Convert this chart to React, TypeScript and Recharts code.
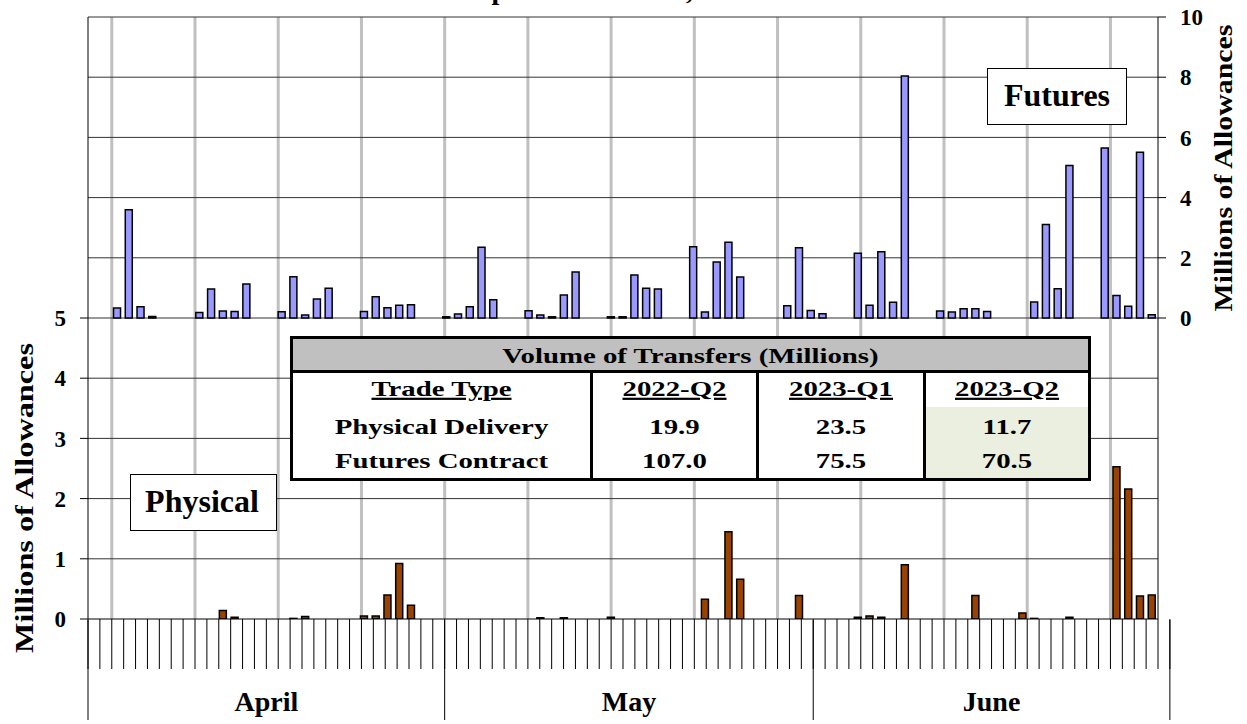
import React from 'react'
import { ComposedChart, Bar, XAxis, YAxis, CartesianGrid } from 'recharts'

const WIDTH = 1247
const HEIGHT = 724
const SERIF = '"Liberation Serif", "Times New Roman", serif'

const months = ['April', 'May', 'June']
const monthAbbr = ['Apr', 'May', 'Jun']

// futures contract transfers per calendar day, millions (null = no trading)
const futuresApril = [
  null, null, 0.33, 3.6, 0.37, 0.05, null, null, null, 0.18,
  0.96, 0.23, 0.22, 1.13, null, null, 0.21, 1.37, 0.1, 0.63,
  0.99, null, null, 0.22, 0.71, 0.34, 0.42, 0.44, null, null,
]
const futuresMay = [
  0.04, 0.13, 0.37, 2.35, 0.61, null, null, 0.24, 0.1, 0.04,
  0.76, 1.53, null, null, 0.04, 0.04, 1.43, 0.99, 0.96, null,
  null, 2.37, 0.2, 1.86, 2.52, 1.36, null, null, null, 0.41,
  2.33,
]
const futuresJune = [
  0.25, 0.14, null, null, 2.15, 0.42, 2.2, 0.52, 8.04, null,
  null, 0.23, 0.2, 0.31, 0.31, 0.22, null, null, null, 0.53,
  3.11, 0.97, 5.07, null, null, 5.65, 0.75, 0.39, 5.51, 0.11,
]

// physical delivery transfers per calendar day, millions
const physicalApril = [
  null, null, null, null, null, null, null, null, null, null,
  null, 0.14, 0.03, null, null, null, null, 0.01, 0.04, null,
  null, null, null, 0.05, 0.05, 0.4, 0.92, 0.23, null, null,
]
const physicalMay = [
  null, null, null, null, null, null, null, null, 0.02, null,
  0.02, null, null, null, 0.03, null, null, null, null, null,
  null, null, 0.33, null, 1.45, 0.66, null, null, null, null,
  0.39,
]
const physicalJune = [
  null, null, null, null, 0.03, 0.05, 0.03, null, 0.9, null,
  null, null, null, null, 0.39, null, null, null, 0.1, 0.01,
  null, null, 0.03, null, null, null, 2.53, 2.16, 0.38, 0.4,
]

// mondays, where the grey week lines sit
const weekStarts = [
  'Apr 3', 'Apr 10', 'Apr 17', 'Apr 24', 'May 1', 'May 8', 'May 15',
  'May 22', 'May 29', 'Jun 5', 'Jun 12', 'Jun 19', 'Jun 26',
]

const physTicks = [0, 1, 2, 3, 4, 5]
const physGrid = [1, 2, 3, 4, 5, 6, 7, 8, 9, 10]
const futuresTicks = [0, 2, 4, 6, 8, 10]

const tableTitle = 'Volume of Transfers (Millions)'
const tableHeads = ['Trade Type', '2022-Q2', '2023-Q1', '2023-Q2']
const tablePhysical = [19.9, 23.5, 11.7]
const tableFutures = [107.0, 75.5, 70.5]

const futuresByMonth = [futuresApril, futuresMay, futuresJune]
const physicalByMonth = [physicalApril, physicalMay, physicalJune]

const rows = months.flatMap((_, mi) =>
  futuresByMonth[mi].map((f, d) => ({
    day: `${monthAbbr[mi]} ${d + 1}`,
    futures: f,
    physical: physicalByMonth[mi][d],
  }))
)
const dayCount = rows.length
const dayEdges = rows.map((_, i) => i).concat(dayCount)
const monthEdges = futuresByMonth.reduce(
  (acc, m) => acc.concat(acc[acc.length - 1] + m.length),
  [0]
)
const monthCenters = months.map((_, i) => (monthEdges[i] + monthEdges[i + 1]) / 2)
const weekEdges = weekStarts.map((d) => rows.findIndex((r) => r.day === d))

const blankTick = () => <g />
const axisFont = { fontSize: 23, fontWeight: 'bold', fill: '#000', fontFamily: SERIF }

// table geometry
const colEdges = [291.5, 591.5, 757.5, 924.5, 1089.5]
const tableTop = 337.5
const headerBottom = 371.5
const shadeTop = 407
const tableBottom = 479.5
const rowBaselines = [396, 434, 468]

function Stretched({ x, y, children, underline = false }) {
  return (
    <text
      transform={`translate(${x} ${y}) scale(1.31 1)`}
      textAnchor="middle"
      fontSize={22}
      textDecoration={underline ? 'underline' : undefined}
    >
      {children}
    </text>
  )
}

function Overlay() {
  const centers = colEdges.slice(0, -1).map((e, i) => (e + colEdges[i + 1]) / 2)
  return (
    <svg
      width={WIDTH}
      height={HEIGHT}
      style={{ position: 'absolute', left: 0, top: 0, pointerEvents: 'none' }}
      fontFamily={SERIF}
      fontWeight="bold"
      fill="#000"
    >
      {/* title sits above the crop, only its descenders show */}
      <text x={211} y={-1} fontSize={28}>
        Allowance Transfers: April 1 to June 30, 2023
      </text>

      <text
        transform="translate(33 498) rotate(-90)"
        textAnchor="middle"
        fontSize={25}
        textLength={310}
        lengthAdjust="spacingAndGlyphs"
      >
        Millions of Allowances
      </text>
      <text
        transform="translate(1232 168) rotate(-90)"
        textAnchor="middle"
        fontSize={25}
        textLength={287}
        lengthAdjust="spacingAndGlyphs"
      >
        Millions of Allowances
      </text>

      <rect x={987.5} y={68.5} width={139} height={56} fill="#fff" stroke="#000" />
      <text x={1057} y={106} fontSize={32} textAnchor="middle">Futures</text>

      <rect x={130.5} y={474.5} width={146} height={56} fill="#fff" stroke="#000" />
      <text x={202} y={512} fontSize={32} textAnchor="middle">Physical</text>

      {/* summary table */}
      <rect x={colEdges[0]} y={tableTop} width={colEdges[4] - colEdges[0]} height={tableBottom - tableTop} fill="#fff" />
      <rect x={colEdges[0]} y={tableTop} width={colEdges[4] - colEdges[0]} height={headerBottom - tableTop} fill="#c0c0c0" />
      <rect x={colEdges[3]} y={shadeTop} width={colEdges[4] - colEdges[3]} height={tableBottom - shadeTop} fill="#ebefdf" />
      {colEdges.slice(1, -1).map((x) => (
        <line key={x} x1={x} x2={x} y1={headerBottom} y2={tableBottom} stroke="#000" strokeWidth={3} />
      ))}
      <line x1={colEdges[0]} x2={colEdges[4]} y1={headerBottom} y2={headerBottom} stroke="#000" strokeWidth={3} />
      <rect x={colEdges[0]} y={tableTop} width={colEdges[4] - colEdges[0]} height={tableBottom - tableTop} fill="none" stroke="#000" strokeWidth={3} />

      <Stretched x={(colEdges[0] + colEdges[4]) / 2} y={363}>{tableTitle}</Stretched>
      {tableHeads.map((h, i) => (
        <Stretched key={h} x={centers[i]} y={rowBaselines[0]} underline>{h}</Stretched>
      ))}
      <Stretched x={centers[0]} y={rowBaselines[1]}>Physical Delivery</Stretched>
      {tablePhysical.map((v, i) => (
        <Stretched key={i} x={centers[i + 1]} y={rowBaselines[1]}>{v.toFixed(1)}</Stretched>
      ))}
      <Stretched x={centers[0]} y={rowBaselines[2]}>Futures Contract</Stretched>
      {tableFutures.map((v, i) => (
        <Stretched key={i} x={centers[i + 1]} y={rowBaselines[2]}>{v.toFixed(1)}</Stretched>
      ))}
    </svg>
  )
}

export default function App() {
  return (
    <div
      style={{
        position: 'absolute',
        left: 0,
        top: 0,
        width: WIDTH,
        height: HEIGHT,
        background: '#fff',
        fontFamily: SERIF,
      }}
    >
      <ComposedChart
        width={WIDTH}
        height={HEIGHT}
        data={rows}
        margin={{ top: 17, right: 0, bottom: 102, left: 0 }}
        barSize={7}
        barGap={-7}
      >
        <CartesianGrid
          xAxisId="edge"
          yAxisId="phys"
          horizontal={false}
          verticalValues={weekEdges}
          stroke="#c0c0c0"
          strokeWidth={3}
        />
        <CartesianGrid
          xAxisId="edge"
          yAxisId="phys"
          vertical={false}
          horizontalValues={physGrid}
          stroke="#333"
        />
        <XAxis
          xAxisId="edge"
          type="number"
          domain={[0, dayCount]}
          ticks={dayEdges}
          interval={0}
          allowDataOverflow
          height={1}
          tickSize={50}
          tick={blankTick}
          tickLine={{ stroke: '#000' }}
          axisLine={{ stroke: '#000' }}
        />
        <XAxis
          xAxisId="month"
          type="number"
          domain={[0, dayCount]}
          ticks={monthEdges}
          interval={0}
          allowDataOverflow
          height={1}
          tickSize={100}
          tick={blankTick}
          tickLine={{ stroke: '#000' }}
          axisLine={false}
        />
        <XAxis
          xAxisId="monthLabel"
          type="number"
          domain={[0, dayCount]}
          ticks={monthCenters}
          interval={0}
          allowDataOverflow
          height={1}
          tickSize={0}
          tickMargin={70}
          tickLine={false}
          axisLine={false}
          tick={{ fontSize: 28, fontWeight: 'bold', fill: '#000', fontFamily: SERIF }}
          tickFormatter={(v) => months[monthCenters.indexOf(v)]}
        />
        <XAxis xAxisId="day" dataKey="day" hide height={0} />
        <YAxis
          yAxisId="phys"
          domain={[0, 10]}
          ticks={physTicks}
          interval={0}
          allowDataOverflow
          width={88}
          tickSize={8}
          tickMargin={14}
          tick={axisFont}
          tickLine={{ stroke: '#000' }}
          axisLine={{ stroke: '#000' }}
        />
        <YAxis
          yAxisId="fut"
          orientation="right"
          domain={[-10, 10]}
          ticks={futuresTicks}
          interval={0}
          allowDataOverflow
          width={89}
          tickSize={8}
          tickMargin={14}
          tick={axisFont}
          tickLine={{ stroke: '#000' }}
          axisLine={{ stroke: '#000' }}
        />
        <Bar
          xAxisId="day"
          yAxisId="fut"
          dataKey="futures"
          barSize={7}
          fill="#9999ff"
          stroke="#000"
          strokeWidth={1.5}
          isAnimationActive={false}
        />
        <Bar
          xAxisId="day"
          yAxisId="phys"
          dataKey="physical"
          barSize={7}
          fill="#9a4300"
          stroke="#000"
          strokeWidth={1.5}
          isAnimationActive={false}
        />
      </ComposedChart>
      <Overlay />
    </div>
  )
}
